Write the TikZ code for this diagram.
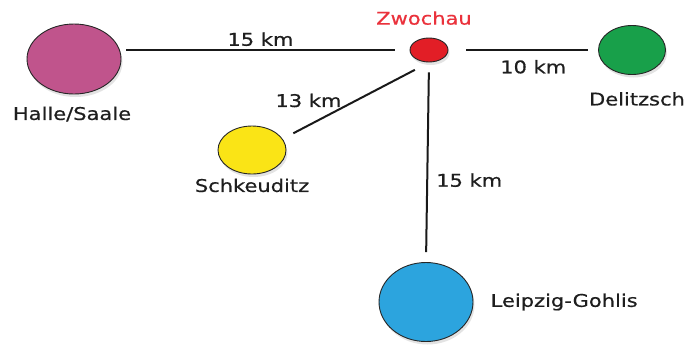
\documentclass[tikz,border=0pt]{standalone}
\usepackage{fontspec}
\setmainfont[FakeStretch=1.2, FakeBold=0.6]{DejaVu Sans}
\usetikzlibrary{positioning,shapes.geometric,shadows}

\definecolor{hallecol}{RGB}{192,84,140}
\definecolor{zwochaucol}{RGB}{226,30,38}
\definecolor{delitzschcol}{RGB}{24,160,74}
\definecolor{schkeuditzcol}{RGB}{250,228,22}
\definecolor{leipzigcol}{RGB}{44,164,222}
\definecolor{labelred}{RGB}{234,50,60}
\definecolor{textgray}{RGB}{30,30,30}

\begin{document}
\begin{tikzpicture}[x=1bp, y=-1bp,
    town/.style={ellipse, draw=black!85, line width=0.9bp, inner sep=0pt,
        drop shadow={opacity=0.22, shadow xshift=1.5bp, shadow yshift=-3bp}},
    townlabel/.style={inner sep=0pt, text=textgray, font=\fontsize{17.5bp}{21bp}\selectfont},
    distlabel/.style={inner sep=0pt, text=textgray, font=\fontsize{17.5bp}{21bp}\selectfont},
    road/.style={line width=2bp, black!90}]
    \useasboundingbox (0,0) rectangle (685,344);

    % Define towns
    \node[town, fill=hallecol, minimum width=94bp, minimum height=70bp] (halle) at (74,59) {};
    \node[town, fill=zwochaucol, minimum width=38bp, minimum height=24bp] (zwochau) at (429,50) {};
    \node[town, fill=delitzschcol, minimum width=67bp, minimum height=49bp] (delitzsch) at (632,50) {};
    \node[town, fill=schkeuditzcol, minimum width=68bp, minimum height=48bp] (schkeuditz) at (252,150) {};
    \node[town, fill=leipzigcol, minimum width=94bp, minimum height=79bp] (leipzig) at (426,302) {};

    % Town names
    \node[townlabel, below=12bp of halle, xshift=-2bp] (hallename) {Halle/Saale};
    \node[townlabel, above=12.5bp of zwochau, xshift=-5bp, text=labelred] (zwochauname) {Zwochau};
    \node[townlabel, below=17bp of delitzsch, xshift=5bp] (delitzschname) {Delitzsch};
    \node[townlabel, below=4bp of schkeuditz] (schkeuditzname) {Schkeuditz};
    \node[townlabel, right=17bp of leipzig] (leipzigname) {Leipzig-Gohlis};

    % Draw roads
    \draw[road, shorten <=5bp, shorten >=15bp] (halle.east |- zwochau.west) -- (zwochau.west)
        node[distlabel, midway, above=3bp, xshift=-5bp] (d1) {15 km};
    \draw[road, shorten <=18bp, shorten >=10bp] (zwochau.east) -- (delitzsch.west)
        node[distlabel, midway, below=9bp, xshift=10bp] (d2) {10 km};
    \draw[road, shorten <=12bp, shorten >=16bp] (schkeuditz.20) -- (zwochau.south)
        node[distlabel, pos=0.45, left=6bp, yshift=4bp] (d3) {13 km};
    \draw[road, shorten <=10bp, shorten >=10bp] (zwochau.south) -- (leipzig.north)
        node[distlabel, pos=0.59, right=8bp] (d4) {15 km};

\end{tikzpicture}
\end{document}
